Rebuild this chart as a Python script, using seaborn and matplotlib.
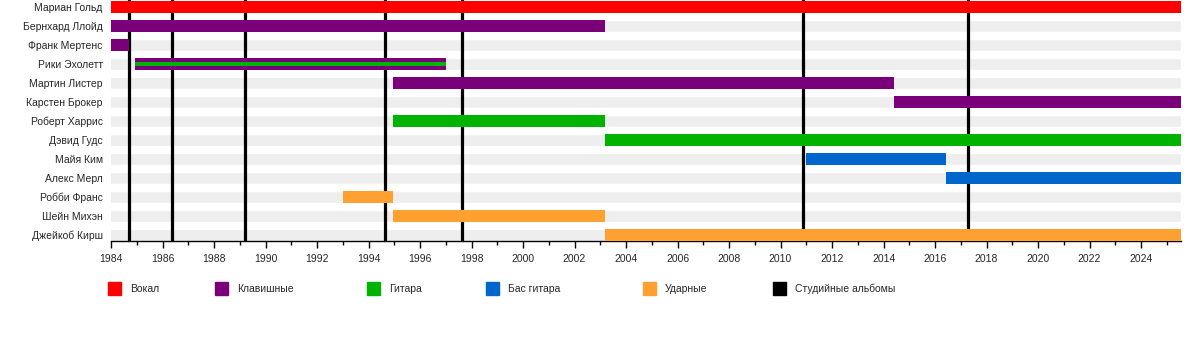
import matplotlib
matplotlib.use('Agg')
import matplotlib.pyplot as plt
import seaborn as sns
import pandas as pd
from matplotlib.patches import Rectangle
from matplotlib.ticker import MultipleLocator

# ---- data ----
members = ["Мариан Гольд", "Бернхард Ллойд", "Франк Мертенс", "Рики Эхолетт",
           "Мартин Листер", "Карстен Брокер", "Роберт Харрис", "Дэвид Гудс",
           "Майя Ким", "Алекс Мерл", "Робби Франс", "Шейн Михэн", "Джейкоб Кирш"]
starts = [1984.0, 1984.0, 1984.0, 1984.93, 1994.95, 2014.4, 1994.95, 2003.18,
          2010.97, 2016.43, 1993.0, 1994.95, 2003.18]
ends = [2025.55, 2003.18, 1984.7, 1997.0, 2014.4, 2025.55, 2003.18, 2025.55,
        2016.43, 2025.55, 1994.95, 2003.18, 2025.55]
roles = ["Вокал", "Клавишные", "Клавишные", "Клавишные", "Клавишные", "Клавишные",
         "Гитара", "Гитара", "Бас гитара", "Бас гитара", "Ударные", "Ударные", "Ударные"]
second_roles = [None, None, None, "Гитара", None, None, None, None, None, None, None, None, None]
albums = [1984.7, 1986.37, 1989.2, 1994.64, 1997.63, 2010.88, 2017.29]
role_names = ["Вокал", "Клавишные", "Гитара", "Бас гитара", "Ударные"]
role_colors = ["#ff0000", "#7a007a", "#00b300", "#0066cc", "#ffa030"]
album_label = "Студийные альбомы"
x_start, x_end = 1984.0, 2025.55

color_of = dict(zip(role_names, role_colors))

sns.set_style("white")
plt.rcParams['font.family'] = ['Liberation Sans', 'DejaVu Sans']

fig = plt.figure(figsize=(12, 3.4), dpi=100)
ax = fig.add_axes([111 / 1200, 1 - 241 / 340, 1070 / 1200, 241 / 340])

# background stripes
bg = pd.DataFrame({"member": members, "end": [x_end] * len(members)})
sns.barplot(data=bg, x="end", y="member", orient="h", color="#eeeeee",
            saturation=1, width=0.68, ax=ax, zorder=1)

# album lines
for a in albums:
    ax.axvline(a, color="black", lw=2.3, zorder=2)

# member bars
for i, (s, e, r, r2) in enumerate(zip(starts, ends, roles, second_roles)):
    ax.barh(i, e - s, left=s, height=0.68, color=color_of[r], zorder=3, linewidth=0)
    if r2 is not None:
        ax.barh(i, e - s, left=s, height=0.24, color=color_of[r2], zorder=4, linewidth=0)

ax.set_xlim(x_start, x_end)
ax.set_ylim(12.316, -0.368)
ax.set_xlabel("")
ax.set_ylabel("")

for side in ["top", "right", "left"]:
    ax.spines[side].set_visible(False)
ax.spines["bottom"].set_color("black")
ax.spines["bottom"].set_linewidth(1)

ax.xaxis.set_major_locator(MultipleLocator(2))
ax.xaxis.set_minor_locator(MultipleLocator(1))
ax.tick_params(axis="x", which="major", length=5, width=1, color="black",
               labelsize=7.5, pad=4, bottom=True)
ax.tick_params(axis="x", which="minor", length=3, width=1, color="black", bottom=True)
ax.tick_params(axis="y", length=0, pad=6, labelsize=7.5)
ax.set_xticklabels([f"{int(t)}" for t in ax.get_xticks()])
ax.set_xlim(x_start, x_end)

# legend
leg_x = [108, 215, 367, 486, 643, 773]
leg_items = list(zip(role_names, role_colors)) + [(album_label, "black")]
for px, (name, col) in zip(leg_x, leg_items):
    fig.add_artist(Rectangle((px / 1200, 1 - 295 / 340), 13 / 1200, 13 / 340,
                             transform=fig.transFigure, color=col))
    fig.text((px + 22) / 1200, 1 - 289 / 340, name, va="center", ha="left", fontsize=7.5)

fig.savefig("out.png", dpi=100)
